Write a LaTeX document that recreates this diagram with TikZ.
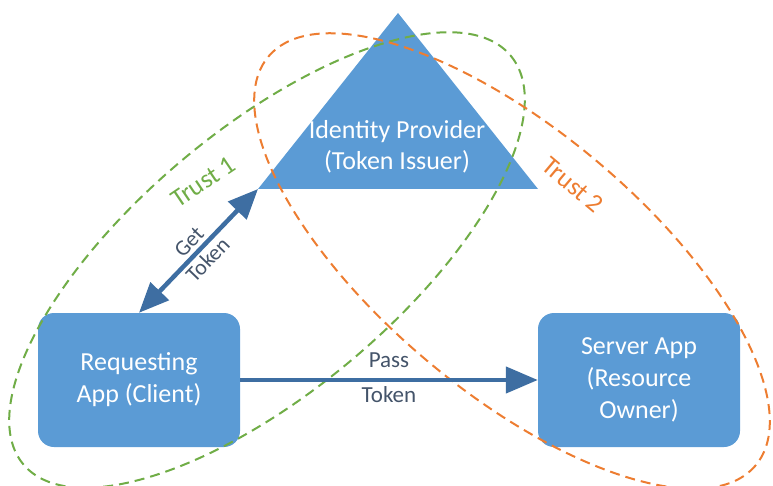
\documentclass[tikz,border=0pt]{standalone}
\usepackage{fontspec}
\setmainfont{Carlito}
\usetikzlibrary{arrows.meta}
\definecolor{boxblue}{RGB}{91,155,213}
\definecolor{arrowblue}{RGB}{62,110,162}
\definecolor{labelgray}{RGB}{68,84,106}
\definecolor{trustgreen}{RGB}{112,173,71}
\definecolor{trustorange}{RGB}{237,125,49}
\tikzset{
  appbox/.style={fill=boxblue, rounded corners=16pt, minimum width=202pt,
    minimum height=134pt, text=white, align=center, inner sep=0pt,
    font=\fontsize{26}{32}\selectfont},
  idptext/.style={text=white, align=center, font=\fontsize{26}{31}\selectfont},
  flowlabel/.style={text=labelgray, align=center},
  flow/.style={draw=arrowblue, line width=4.5pt,
    -{Triangle[length=32pt,width=26pt]}},
  twoflow/.style={draw=arrowblue, line width=4.5pt,
    {Triangle[length=30pt,width=25pt]}-{Triangle[length=30pt,width=25pt]}},
  trustline/.style={dash pattern=on 10pt off 6pt, line width=2pt},
  trustlabel/.style={font=\fontsize{26}{30}\selectfont, inner sep=1pt},
}
\begin{document}
\begin{tikzpicture}[x=1pt,y=-1pt]
  \useasboundingbox (0,0) rectangle (773,486);

  % identity provider triangle
  \coordinate (apex) at (398,13);
  \coordinate (idpR) at (538,189);
  \coordinate (idpL) at (258,189);
  \fill[boxblue] (apex) -- (idpR) -- (idpL) -- cycle;
  \node[idptext] (idp) at (397,147) {Identity Provider\\(Token Issuer)};

  % the two applications
  \node[appbox] (client) at (139,380) {Requesting\\App (Client)};
  \node[appbox] (server) at (639,380) {Server App\\(Resource\\Owner)};

  % trust boundaries
  \draw[trustline, draw=trustgreen, shift={(267,260)}, rotate=40]
    (0,0) ellipse [x radius=318, y radius=131];
  \draw[trustline, draw=trustorange, shift={(512,261)}, rotate=-40]
    (0,0) ellipse [x radius=318, y radius=131];
  \node[trustlabel, text=trustgreen, rotate=34] (trust1) at (203,182) {Trust 1};
  \node[trustlabel, text=trustorange, rotate=-40] (trust2) at (573,185) {Trust 2};

  % token exchange
  \draw[twoflow] (client.north) -- (idpL)
    node[midway, sloped, flowlabel, font=\fontsize{22}{26}\selectfont] (get) {Get\\Token};
  \draw[flow] (client.east) -- (server.west)
    node[midway, flowlabel, font=\fontsize{23}{35}\selectfont, yshift=2pt] (pass) {Pass\\Token};
\end{tikzpicture}
\end{document}
